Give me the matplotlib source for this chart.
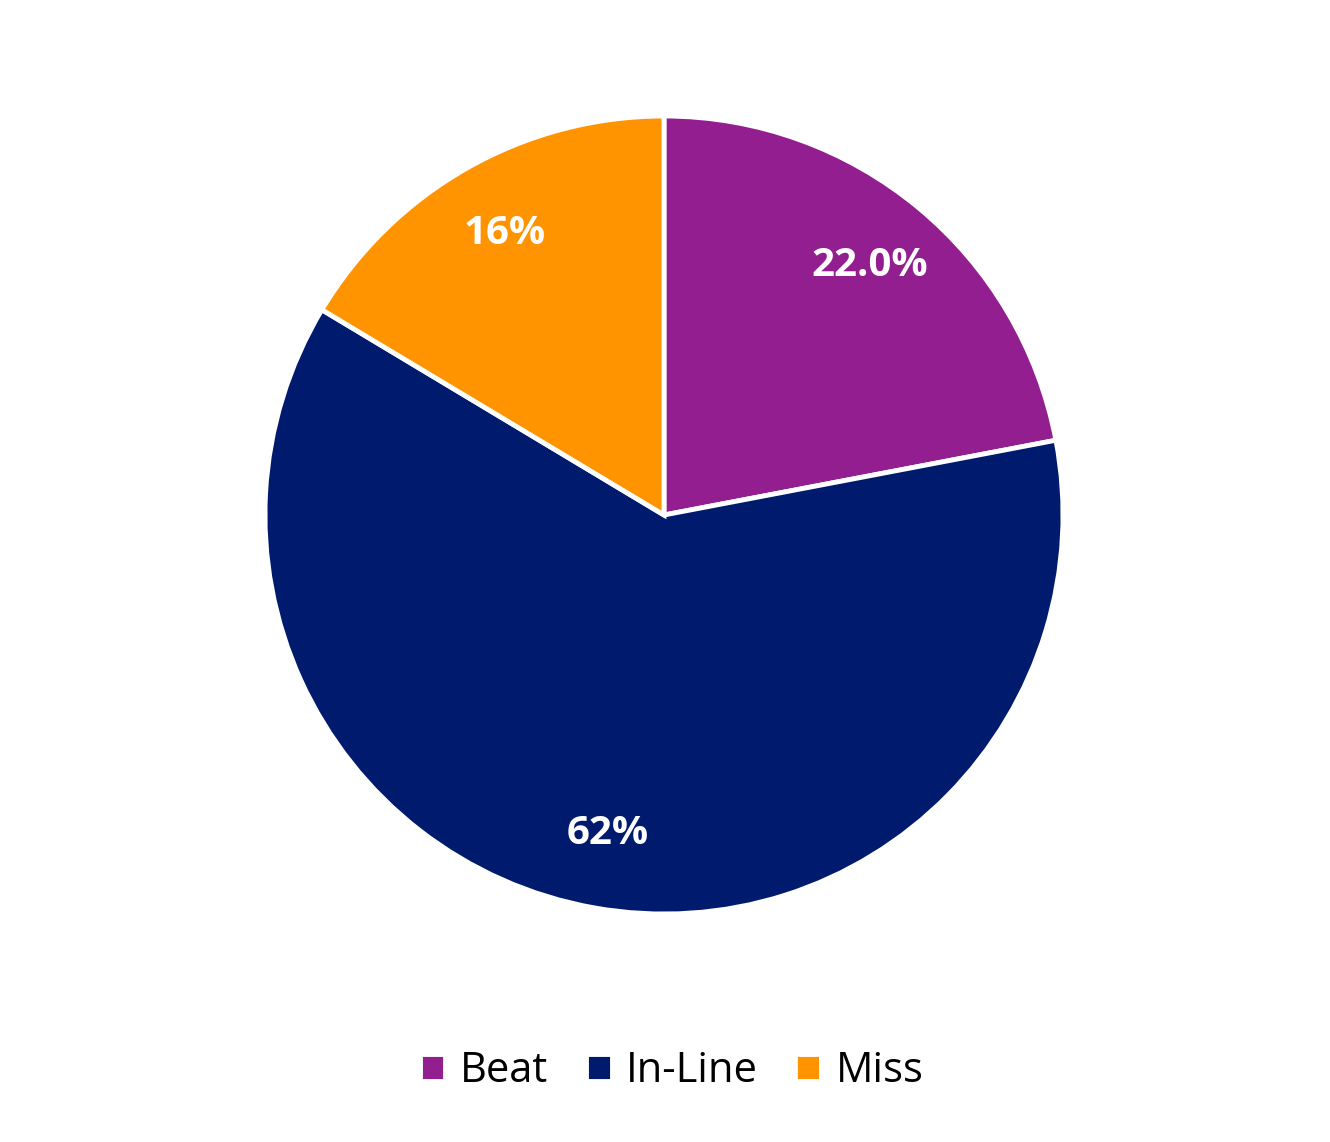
import matplotlib.pyplot as plt

categories = ["Beat", "In-Line", "Miss"]
values = [22.0, 61.6, 16.4]
pct_labels = ["22.0%", "62%", "16%"]
colors = ["#921E8F", "#001A6E", "#FF9400"]

plt.rcParams["font.family"] = ["Open Sans", "DejaVu Sans"]

fig = plt.figure(figsize=(13.3, 11.42), dpi=100)
cx, cy, r = 664, 1142 - 515, 399
ax = fig.add_axes([(cx - r) / 1330, (cy - r) / 1142, 2 * r / 1330, 2 * r / 1142])

labels_iter = iter(pct_labels)
wedges, texts, autotexts = ax.pie(
    values, colors=colors, startangle=90, counterclock=False, radius=1,
    autopct=lambda p: next(labels_iter), pctdistance=0.81,
    wedgeprops=dict(edgecolor="white", linewidth=3.5),
    textprops=dict(color="white", fontsize=29, fontweight="bold"))
ax.set_xlim(-1, 1)
ax.set_ylim(-1, 1)
ax.axis("off")

fig.legend(wedges, categories, loc="center", bbox_to_anchor=(0.505, 0.062),
           ncol=3, frameon=False, fontsize=30, handlelength=0.62, handleheight=0.6,
           handletextpad=0.35, columnspacing=0.9)

fig.savefig("out.png", dpi=100)
